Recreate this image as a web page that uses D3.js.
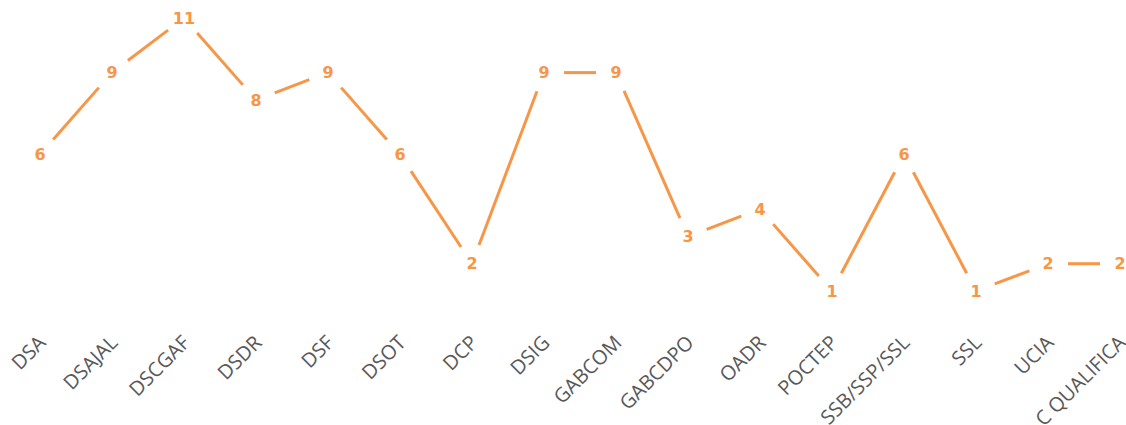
<html>
<head>
    <script src="https://d3js.org/d3.v7.min.js"></script>
    <style>
        body { margin: 0; background: #fff; }
    </style>
</head>
<body>
    <svg id="chart" width="1126" height="425"></svg>
    <script>
        // data
        const categories = ["DSA", "DSAJAL", "DSCGAF", "DSDR", "DSF", "DSOT", "DCP", "DSIG",
            "GABCOM", "GABCDPO", "OADR", "POCTEP", "SSB/SSP/SSL", "SSL", "UCIA", "C QUALIFICA"];
        const values = [6, 9, 11, 8, 9, 6, 2, 9, 9, 3, 4, 1, 6, 1, 2, 2];

        const orange = "#F79646";
        const gap = 20; // line stops short of each label

        let svg = d3.select("svg#chart");

        const xScale = d3.scalePoint().domain(categories).range([40, 1120]);
        const yScale = d3.scaleLinear().domain([1, 11]).range([291, 18]);

        // line segments, trimmed round the labels
        let segs = [];
        for (let i = 0; i < values.length - 1; i++) {
            let x1 = xScale(categories[i]), y1 = yScale(values[i]);
            let x2 = xScale(categories[i + 1]), y2 = yScale(values[i + 1]);
            let len = Math.hypot(x2 - x1, y2 - y1);
            let ux = (x2 - x1) / len, uy = (y2 - y1) / len;
            segs.push({ x1: x1 + ux * gap, y1: y1 + uy * gap, x2: x2 - ux * gap, y2: y2 - uy * gap });
        }

        svg.append("g").selectAll("line").data(segs)
            .join("line")
            .attr("x1", d => d.x1).attr("y1", d => d.y1)
            .attr("x2", d => d.x2).attr("y2", d => d.y2)
            .attr("stroke", orange)
            .attr("stroke-width", 3)
            .attr("stroke-linecap", "butt");

        // value labels
        svg.append("g").selectAll("text").data(values)
            .join("text")
            .attr("x", (d, i) => xScale(categories[i]))
            .attr("y", d => yScale(d))
            .attr("dy", "0.36em")
            .attr("text-anchor", "middle")
            .style("font-family", "'DejaVu Sans', Verdana, sans-serif")
            .style("font-weight", "bold")
            .style("font-size", "16px")
            .style("fill", orange)
            .text(d => d);

        // category labels, rotated
        svg.append("g").selectAll("text").data(categories)
            .join("text")
            .attr("transform", d => `translate(${xScale(d) + 2}, 339) rotate(-45)`)
            .attr("dy", "0.35em")
            .attr("text-anchor", "end")
            .style("font-family", "'Open Sans', sans-serif")
            .style("font-size", "20px")
            .style("fill", "#595959")
            .text(d => d);
    </script>
</body>
</html>
